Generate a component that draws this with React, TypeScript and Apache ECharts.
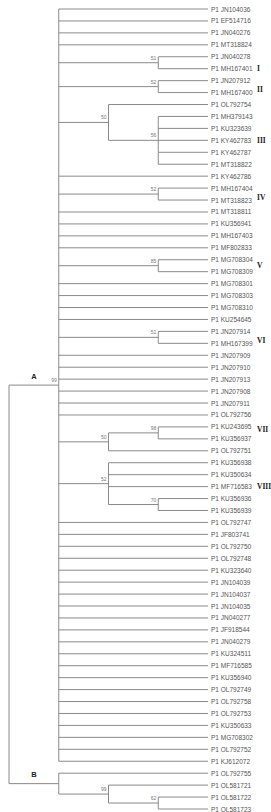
import React, { useEffect, useRef } from "react";
import * as echarts from "echarts";

type Node = string | { s?: string; c: Node[] };

// ---- data ----
const cladeIII: Node = { s: "50", c: ["OL792754", { s: "56", c: ["MH379143", "KU323639", "KY462783", "KY462787", "MT318822"] }] };
const cladeVII: Node = { s: "50", c: [{ s: "98", c: ["KU243695", "KU356937"] }, "OL792751"] };
const cladeVIII: Node = { s: "52", c: ["KU356938", "KU350634", "MF716583", { s: "70", c: ["KU356936", "KU356939"] }] };

const cladeA: Node = {
  s: "99",
  c: [
    "JN104036", "EF514716", "JN040276", "MT318824",
    { s: "51", c: ["JN040278", "MH167401"] },
    { s: "52", c: ["JN207912", "MH167400"] },
    cladeIII,
    "KY462786",
    { s: "52", c: ["MH167404", "MT318823"] },
    "MT318811", "KU356941", "MH167403", "MF802833",
    { s: "85", c: ["MG708304", "MG708309"] },
    "MG708301", "MG708303", "MG708310", "KU254645",
    { s: "51", c: ["JN207914", "MH167399"] },
    "JN207909", "JN207910", "JN207913", "JN207908", "JN207911", "OL792756",
    cladeVII,
    cladeVIII,
    "OL792747", "JF803741", "OL792750", "OL792748", "KU323640", "JN104039", "JN104037",
    "JN104035", "JN040277", "JF918544", "JN040279", "KU324511", "MF716585", "KU356940",
    "OL792749", "OL792758", "OL792753", "KU350633", "MG708302", "OL792752", "KJ612072",
  ],
};
const cladeB: Node = { c: ["OL792755", { s: "99", c: ["OL581721", { s: "62", c: ["OL581722", "OL581723"] }] }] };
const rootChildren: Node[] = [cladeA, cladeB];
const leafPrefix = "P1 ";

const groupNames = ["A", "B"];
const tagNames = ["I", "II", "III", "IV", "V", "VI", "VII", "VIII"];
const tagRows = [5.95, 7.7, 12.05, 16.8, 22.45, 28.75, 36.25, 40.95];

// ---- layout ----
const TIP = 4;
type Seg = [number, number, number, number];
const segs: Seg[] = [];
const leaves: { name: string; y: number }[] = [];
const supports: { x: number; y: number; s: string }[] = [];
const groupPos: { x1: number; x2: number; y: number }[] = [];
let leafCount = 0;

function height(n: Node): number {
  if (typeof n === "string") return 0;
  return Math.max(...n.c.map(height)) + 1;
}
function layout(n: Node): { x: number; y: number } {
  if (typeof n === "string") {
    leafCount += 1;
    leaves.push({ name: leafPrefix + n, y: leafCount });
    return { x: TIP, y: leafCount };
  }
  const x = TIP - height(n);
  const kids = n.c.map(layout);
  const y = (kids[0].y + kids[kids.length - 1].y) / 2;
  segs.push([x, kids[0].y, x, kids[kids.length - 1].y]);
  kids.forEach((k) => segs.push([x, k.y, k.x, k.y]));
  if (n.s) supports.push({ x, y, s: n.s });
  return { x, y };
}
const rootNode: Node = { c: rootChildren };
const rootX = TIP - height(rootNode);
const rootKids = rootChildren.map(layout);
segs.push([rootX, rootKids[0].y, rootX, rootKids[rootKids.length - 1].y]);
rootKids.forEach((k) => {
  segs.push([rootX, k.y, k.x, k.y]);
  groupPos.push({ x1: rootX, x2: k.x, y: k.y });
});

const LINE = "#8a8a8a";
const SANS = "Liberation Sans, Arial, sans-serif";

export default function App() {
  const ref = useRef<HTMLDivElement>(null);
  useEffect(() => {
    if (!ref.current) return;
    const chart = echarts.init(ref.current, undefined, { renderer: "svg" });
    chart.setOption({
      animation: false,
      color: ["#222"],
      grid: { left: 9, right: 63, top: 9, bottom: 3 },
      xAxis: { type: "value", min: 0, max: TIP, show: false },
      yAxis: { type: "value", min: 1, max: leafCount, inverse: true, show: false },
      series: [
        {
          type: "custom",
          clip: false,
          data: segs.map((_, i) => [i]),
          renderItem: (p: any, api: any) => {
            const s = segs[p.dataIndex];
            const a = api.coord([s[0], s[1]]);
            const b = api.coord([s[2], s[3]]);
            return {
              type: "line",
              shape: { x1: a[0], y1: a[1], x2: b[0], y2: b[1] },
              style: { stroke: LINE, lineWidth: 1 },
            };
          },
        },
        {
          type: "custom",
          clip: false,
          data: leaves.map((_, i) => [i]),
          renderItem: (p: any, api: any) => {
            const l = leaves[p.dataIndex];
            const a = api.coord([TIP, l.y]);
            return {
              type: "text",
              x: a[0] + 3,
              y: a[1],
              style: {
                text: l.name,
                fill: "#555",
                fontSize: 6.5,
                fontFamily: SANS,
                align: "left",
                verticalAlign: "middle",
              },
            };
          },
        },
        {
          type: "custom",
          clip: false,
          data: supports.map((_, i) => [i]),
          renderItem: (p: any, api: any) => {
            const l = supports[p.dataIndex];
            const a = api.coord([l.x, l.y]);
            return {
              type: "text",
              x: a[0] - 2,
              y: a[1] - 5,
              style: {
                text: l.s,
                fill: "#777",
                fontSize: 5,
                fontFamily: SANS,
                align: "right",
                verticalAlign: "middle",
              },
            };
          },
        },
        {
          type: "custom",
          clip: false,
          data: tagNames.map((_, i) => [i]),
          renderItem: (p: any, api: any) => {
            const a = api.coord([TIP, tagRows[p.dataIndex]]);
            return {
              type: "text",
              x: a[0] + 49,
              y: a[1],
              style: {
                text: tagNames[p.dataIndex],
                fill: "#1a1a1a",
                fontSize: 7.5,
                fontWeight: "bold",
                fontFamily: "Liberation Serif, Times New Roman, serif",
                align: "left",
                verticalAlign: "middle",
              },
            };
          },
        },
        {
          type: "custom",
          clip: false,
          data: groupPos.map((_, i) => [i]),
          renderItem: (p: any, api: any) => {
            const g = groupPos[p.dataIndex];
            const a = api.coord([(g.x1 + g.x2) / 2, g.y]);
            return {
              type: "text",
              x: a[0],
              y: a[1] - 9,
              style: {
                text: groupNames[p.dataIndex],
                fill: "#222",
                fontSize: 7.5,
                fontWeight: "bold",
                fontFamily: SANS,
                align: "center",
                verticalAlign: "middle",
              },
            };
          },
        },
      ],
    });
    return () => chart.dispose();
  }, []);
  return (
    <div
      ref={ref}
      style={{ position: "fixed", left: 0, top: 0, width: 271, height: 812, background: "#fff" }}
    />
  );
}
